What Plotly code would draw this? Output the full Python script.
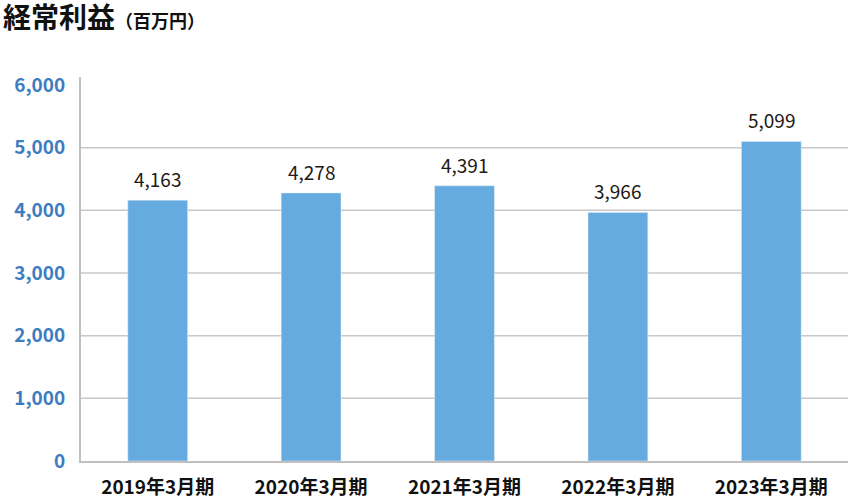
import plotly.graph_objects as go

categories = ["2019年3月期", "2020年3月期", "2021年3月期", "2022年3月期", "2023年3月期"]
values = [4163, 4278, 4391, 3966, 5099]
y_ticks = [0, 1000, 2000, 3000, 4000, 5000, 6000]
y_tick_labels = ["0", "1,000", "2,000", "3,000", "4,000", "5,000", "6,000"]
grid_values = [1000, 2000, 3000, 4000, 5000]

FONT = "Noto Sans CJK JP"

fig = go.Figure()
fig.add_trace(go.Bar(
    x=categories,
    y=values,
    width=0.39,
    marker=dict(color="#65abe0"),
    hoverinfo="skip",
))

for c, v in zip(categories, values):
    fig.add_annotation(x=c, y=v, text=f"{v:,}", showarrow=False,
                       yanchor="bottom", yshift=6,
                       font=dict(family=FONT, size=19, color="#231815"))

for g in grid_values:
    fig.add_shape(type="line", xref="paper", yref="y", x0=0, x1=1, y0=g, y1=g,
                  line=dict(color="#c8c8c8", width=1.5), layer="below")

fig.update_layout(
    width=848, height=500,
    margin=dict(l=81, r=0, t=77, b=39),
    paper_bgcolor="white", plot_bgcolor="white",
    showlegend=False,
    title=dict(
        text="<b>経常利益</b><span style='font-size:18px'><b>（百万円）</b></span>",
        x=0.0, xref="container", xanchor="left",
        y=0.984, yref="container", yanchor="top",
        font=dict(family=FONT, size=28, color="#111111"),
        pad=dict(l=3, t=0),
    ),
    xaxis=dict(
        showgrid=False, showline=True, linecolor="#c0c0c0", linewidth=2,
        ticks="", tickfont=dict(family=FONT, size=19, color="#111111", weight="bold"),
        ticklabelstandoff=8,
    ),
    yaxis=dict(
        range=[0, 6128], showgrid=False, zeroline=False,
        showline=True, linecolor="#c0c0c0", linewidth=2,
        tickvals=y_ticks, ticktext=y_tick_labels, ticks="",
        tickfont=dict(family=FONT, size=19, color="#3d7dbf", weight="bold"),
        ticklabelstandoff=10,
    ),
)

fig.write_html(
    "out.html",
    config={"displayModeBar": False},
    post_script="document.body.style.margin='0';document.body.style.overflow='hidden';",
)
